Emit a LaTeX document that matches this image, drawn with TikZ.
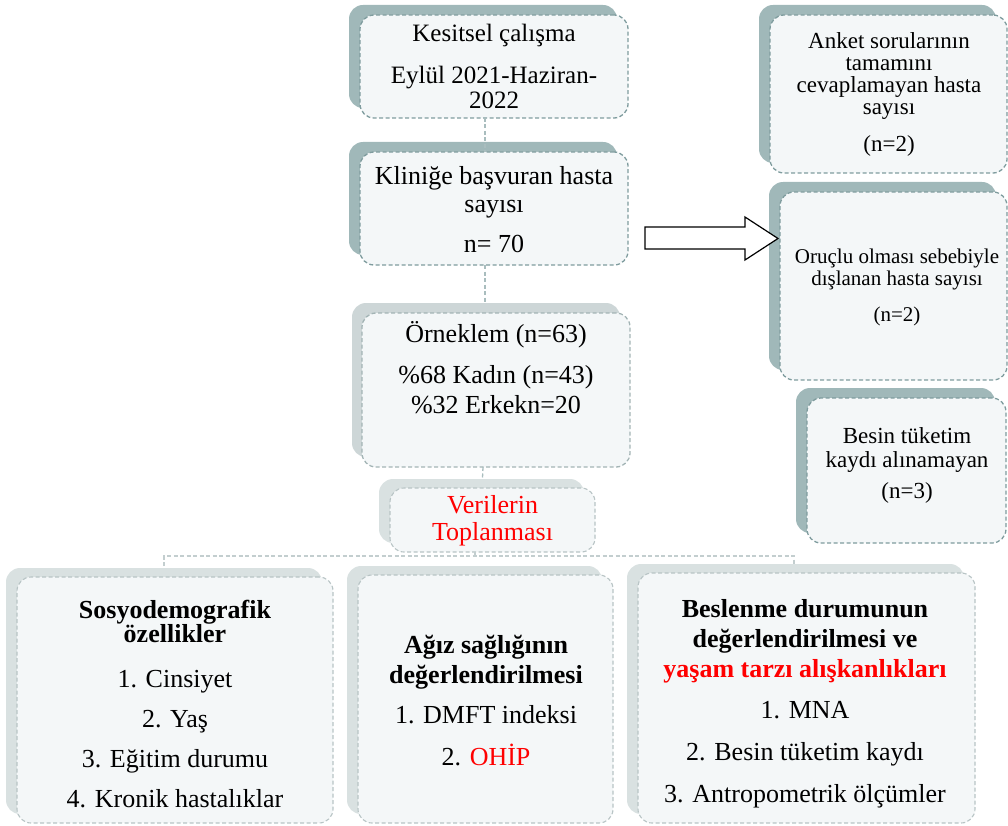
\documentclass[tikz,border=0pt]{standalone}
\usepackage{fontspec}
\setmainfont{Liberation Serif}
\usetikzlibrary{shadows}
\definecolor{fillc}{HTML}{F4F7F8}
\definecolor{darkshade}{HTML}{A0B8B9}
\definecolor{darkedge}{HTML}{7F9C9E}
\definecolor{midshade}{HTML}{CDD6D7}
\definecolor{midedge}{HTML}{A3B4B5}
\definecolor{lightshade}{HTML}{D9E1E1}
\definecolor{lightedge}{HTML}{B8C4C5}
\definecolor{conndark}{HTML}{A9BDBE}
\definecolor{connlight}{HTML}{C3CECF}
\definecolor{txtred}{HTML}{FF0000}
\tikzset{
  frame/.style={rectangle, rounded corners=14pt, fill=fillc, line width=1.3pt,
    dash pattern=on 4pt off 2.5pt, inner sep=0pt, outer sep=0pt},
  darkframe/.style={frame, draw=darkedge,
    general shadow={fill=darkshade, draw=none, shadow xshift=-11pt, shadow yshift=10pt}},
  midframe/.style={frame, draw=midedge,
    general shadow={fill=midshade, draw=none, shadow xshift=-10pt, shadow yshift=10pt}},
  lightframe/.style={frame, draw=lightedge, line width=1.1pt,
    general shadow={fill=lightshade, draw=none, shadow xshift=-11pt, shadow yshift=9pt}},
  conn/.style={draw=conndark, line width=1.3pt, dash pattern=on 4pt off 2.5pt},
  bracket/.style={draw=connlight, line width=1.2pt, dash pattern=on 4pt off 2.5pt},
  linetxt/.style={anchor=base, inner sep=0pt, font=\fontsize{26}{30}\selectfont},
  blockarrow/.style={draw=black, line width=1.2pt, fill=white, line join=miter}
}
\newcommand{\boxlines}[4]{%
  \foreach \lnY/\lnT [count=\k] in {#4}{\node[linetxt,#3] (#1\k) at (#2,\lnY) {\lnT};}}
\begin{document}
\begin{tikzpicture}[x=1pt,y=-1pt]
\useasboundingbox (0,0) rectangle (1008,826);

% frames
\node[darkframe, minimum width=268pt, minimum height=103pt] (b1) at (494,66.5) {};
\node[darkframe, minimum width=268pt, minimum height=113pt] (b2) at (494,208.5) {};
\node[midframe, minimum width=268pt, minimum height=154pt] (b3) at (496,390) {};
\node[lightframe, minimum width=205pt, minimum height=64pt] (v) at (492.5,520) {};
\node[darkframe, minimum width=237pt, minimum height=158pt] (r1) at (888.5,94) {};
\node[darkframe, minimum width=227pt, minimum height=188pt] (r2) at (893.5,286) {};
\node[darkframe, minimum width=199pt, minimum height=145pt] (r3) at (906.5,470.5) {};
\node[lightframe, minimum width=316pt, minimum height=246pt] (s1) at (175,700) {};
\node[lightframe, minimum width=255pt, minimum height=248pt] (s2) at (485.5,699) {};
\node[lightframe, minimum width=337pt, minimum height=250pt] (s3) at (806.5,698) {};

% connectors
\draw[conn] ([xshift=-9pt]b1.south) -- ([xshift=-9pt]b2.north);
\draw[conn] ([xshift=-9pt]b2.south) -- ([xshift=-11pt,yshift=10pt]b3.north);
\draw[conn] ([xshift=-13pt]b3.south) -- ([xshift=-10pt,yshift=10pt]v.north);
\draw[bracket] ([xshift=-17.5pt]v.south) -- ++(0,4);
\draw[bracket] ([xshift=-11pt,yshift=11pt]s1.north) -- ++(0,-10) -| ([xshift=-12.5pt,yshift=9pt]s3.north);

% block arrow
\draw[blockarrow] (645,227) -- (745,227) -- (745,217) -- (778,238.5) -- (745,260) -- (745,249) -- (645,249) -- cycle;

% texts
\boxlines{bt}{494}{font=\fontsize{25}{29}\selectfont}{42/Kesitsel çalışma,
  84/Eylül 2021-Haziran-,
  109/2022}
\boxlines{bs}{494}{}{185/Kliniğe başvuran hasta,
  213/sayısı,
  252/n= 70}
\boxlines{bo}{496}{}{342/Örneklem (n=63),
  383/\%68 Kadın (n=43),
  413/\%32 Erkekn=20}
\boxlines{vt}{492.5}{text=txtred}{513/Verilerin,
  540/Toplanması}
\boxlines{ra}{889}{font=\fontsize{23}{27}\selectfont}{49/Anket sorularının,
  71/tamamını,
  93/cevaplamayan hasta,
  115/sayısı,
  152/(n=2)}
\boxlines{rb}{897}{font=\fontsize{21}{25}\selectfont}{263/Oruçlu olması sebebiyle,
  285/dışlanan hasta sayısı,
  321/(n=2)}
\boxlines{rc}{907}{font=\fontsize{23}{27}\selectfont}{443/Besin tüketim,
  467/kaydı alınamayan,
  498/(n=3)}
\boxlines{sa}{175}{}{618/{\bfseries Sosyodemografik},
  642/{\bfseries özellikler},
  687/1. Cinsiyet,
  727/2. Yaş,
  767/3. Eğitim durumu,
  807/4. Kronik hastalıklar}
\boxlines{sb}{486}{}{653/{\bfseries Ağız sağlığının},
  683/{\bfseries değerlendirilmesi},
  723/1. DMFT indeksi,
  765/2. \textcolor{txtred}{OHİP}}
\boxlines{sc}{805}{}{617/{\bfseries Beslenme durumunun},
  647/{\bfseries değerlendirilmesi ve},
  677/{\bfseries\color{txtred}yaşam tarzı alışkanlıkları},
  718/1. MNA,
  760/2. Besin tüketim kaydı,
  802/3. Antropometrik ölçümler}
\end{tikzpicture}
\end{document}
